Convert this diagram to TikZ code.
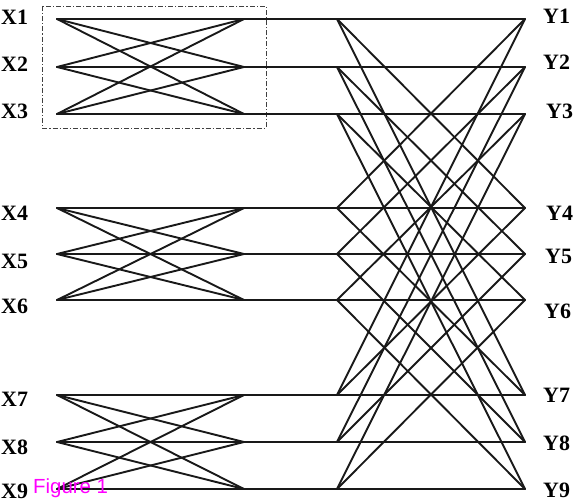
\documentclass[tikz,border=0pt]{standalone}
\usepackage{fontspec}
\setmainfont{Liberation Serif}
\newfontfamily\figsans{Liberation Sans}
\definecolor{figmag}{RGB}{255,0,255}
\begin{document}
\begin{tikzpicture}[x=1bp,y=-1bp,
  wire/.style={line width=1.9bp, line cap=round, black!90},
  lab/.style={font=\fontsize{22}{22}\selectfont\bfseries, inner sep=0pt, anchor=west},
  groupbox/.style={line width=0.9bp, black!75, dash pattern=on 5bp off 2bp on 1.2bp off 2bp},
  caption/.style={font=\figsans\fontsize{20.5}{20.5}\selectfont, text=figmag, inner sep=0pt, anchor=west}]
\useasboundingbox (0,0) rectangle (573,502);
% terminal points
\foreach \i/\y in {1/19,2/67,3/114,4/208,5/254,6/300,7/395,8/442,9/489} {
  \coordinate (a\i) at (57,\y);
  \coordinate (b\i) at (244,\y);
  \coordinate (c\i) at (337,\y);
  \coordinate (d\i) at (525,\y);
}
% group box
\draw[groupbox] (42,6) rectangle (266,128);
% through lines
\foreach \i in {1,...,9} { \draw[wire] (a\i) -- (d\i); }
% first stage: complete connections within each group of three
\foreach \g in {0,1,2} {
  \foreach \k in {1,2,3} {
    \foreach \l in {1,2,3} {
      \pgfmathtruncatemacro{\src}{3*\g+\k}
      \pgfmathtruncatemacro{\dst}{3*\g+\l}
      \draw[wire] (a\src) -- (b\dst);
    }
  }
}
% second stage: rows with same position in group
\foreach \k in {1,2,3} {
  \foreach \g in {0,1,2} {
    \foreach \h in {0,1,2} {
      \pgfmathtruncatemacro{\src}{3*\g+\k}
      \pgfmathtruncatemacro{\dst}{3*\h+\k}
      \draw[wire] (c\src) -- (d\dst);
    }
  }
}
% labels
\foreach \i/\y in {1/17,2/64,3/111,4/213,5/261,6/306,7/399,8/447,9/491} {
  \node[lab] (x\i) at (1,\y) {X\i};
}
\foreach \i/\x/\y in {1/543/16,2/543/62,3/546/111,4/546/213,5/545/256,6/544/311,7/543/395,8/543/443,9/543/490} {
  \node[lab] (y\i) at (\x,\y) {Y\i};
}
\node[caption] (fig) at (33,488) {Figure 1};
\end{tikzpicture}
\end{document}
